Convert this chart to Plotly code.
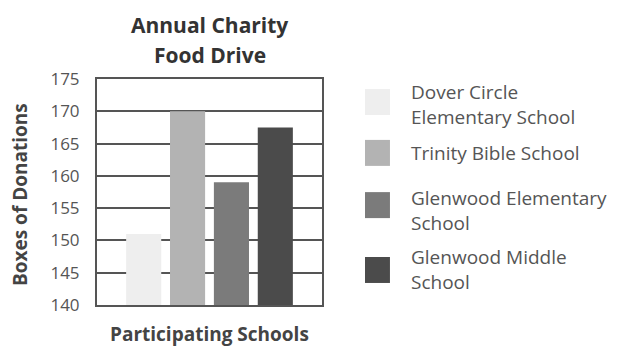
import plotly.graph_objects as go

schools = ["Dover Circle<br>Elementary School", "Trinity Bible School",
           "Glenwood Elementary<br>School", "Glenwood Middle<br>School"]
boxes = [151, 170, 159, 167.5]
colors = ["#eeeeee", "#b3b3b3", "#7b7b7b", "#4b4b4b"]
y_ticks = [140, 145, 150, 155, 160, 165, 170, 175]

fig = go.Figure()
for name, val, col in zip(schools, boxes, colors):
    fig.add_trace(go.Bar(x=["Schools"], y=[val], name=name, marker_color=col,
                         marker_line_width=0, showlegend=False))

# custom legend (paper coordinates)
sq_y = [0.898, 0.673, 0.442, 0.155]
txt_y = [0.889, 0.673, 0.416, 0.155]
for name, col, sy, ty in zip(schools, colors, sq_y, txt_y):
    fig.add_shape(type="rect", xref="paper", yref="paper",
                  x0=1.191, x1=1.302, y0=sy - 0.0575, y1=sy + 0.0575,
                  fillcolor=col, line_width=0)
    fig.add_annotation(text=name, xref="paper", yref="paper", x=1.385, y=ty,
                       xanchor="left", yanchor="middle", showarrow=False, align="left",
                       font=dict(family="Open Sans", size=19, color="#555"))

# titles
fig.add_annotation(text="<b>Annual Charity</b>", xref="paper", yref="paper",
                   x=0.5, y=(305 - 25) / 226, xanchor="center", yanchor="middle",
                   showarrow=False, font=dict(family="Open Sans", size=21, color="#333"))
fig.add_annotation(text="<b>Food Drive</b>", xref="paper", yref="paper",
                   x=0.5, y=(305 - 55) / 226, xanchor="center", yanchor="middle",
                   showarrow=False, font=dict(family="Open Sans", size=21, color="#333"))
fig.add_annotation(text="<b>Participating Schools</b>", xref="paper", yref="paper",
                   x=0.5, y=(305 - 334) / 226, xanchor="center", yanchor="middle",
                   showarrow=False, font=dict(family="Open Sans", size=19, color="#444"))
fig.add_annotation(text="<b>Boxes of Donations</b>", xref="paper", yref="paper",
                   x=(20 - 97) / 225, y=(305 - 195) / 226, xanchor="center", yanchor="middle",
                   textangle=-90, showarrow=False,
                   font=dict(family="Open Sans", size=19, color="#444"))

fig.update_layout(
    width=631, height=347, autosize=False,
    margin=dict(l=97, r=309, t=79, b=42),
    paper_bgcolor="white", plot_bgcolor="white",
    barmode="group", bargap=0.22, bargroupgap=0.2,
    font=dict(family="Open Sans", color="#555"),
)
fig.update_xaxes(showticklabels=False, ticks="", showline=True, linecolor="#555",
                 linewidth=2, mirror=True, automargin=False)
fig.update_yaxes(range=[140, 175], tickvals=y_ticks, showgrid=True, gridcolor="#555",
                 gridwidth=1.5, showline=True, linecolor="#555", linewidth=2, mirror=True,
                 tickfont=dict(size=17, color="#555"), ticks="", zeroline=False,
                 ticklabelstandoff=12, automargin=False)

fig.write_html("out.html")
